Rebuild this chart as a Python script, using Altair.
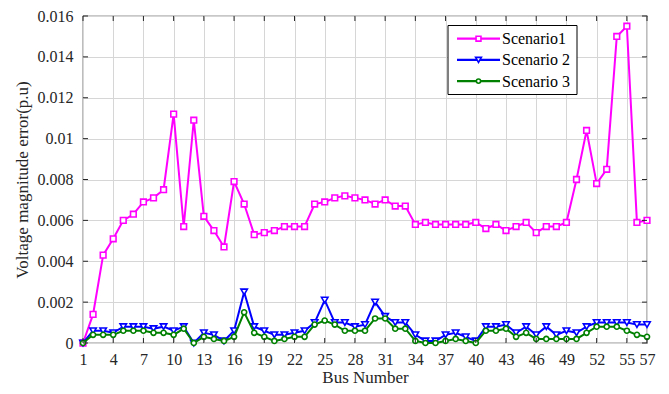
import altair as alt
import pandas as pd

bus = list(range(1, 58))
s1 = [0.0000, 0.0014, 0.0043, 0.0051, 0.0060, 0.0063, 0.0069, 0.0071, 0.0075, 0.0112,
      0.0057, 0.0109, 0.0062, 0.0055, 0.0047, 0.0079, 0.0068, 0.0053, 0.0054, 0.0055,
      0.0057, 0.0057, 0.0057, 0.0068, 0.0069, 0.0071, 0.0072, 0.0071, 0.0070, 0.0068,
      0.0070, 0.0067, 0.0067, 0.0058, 0.0059, 0.0058, 0.0058, 0.0058, 0.0058, 0.0059,
      0.0056, 0.0058, 0.0055, 0.0057, 0.0059, 0.0054, 0.0057, 0.0057, 0.0059, 0.0080,
      0.0104, 0.0078, 0.0085, 0.0150, 0.0155, 0.0059, 0.0060]
s2 = [0.0000, 0.0006, 0.0006, 0.0005, 0.0008, 0.0008, 0.0008, 0.0007, 0.0008, 0.0006,
      0.0008, 0.0000, 0.0005, 0.0004, 0.0001, 0.0006, 0.0025, 0.0008, 0.0006, 0.0004,
      0.0004, 0.0005, 0.0006, 0.0010, 0.0021, 0.0010, 0.0010, 0.0008, 0.0009, 0.0020,
      0.0013, 0.0010, 0.0010, 0.0004, 0.0001, 0.0001, 0.0004, 0.0005, 0.0003, 0.0001,
      0.0008, 0.0008, 0.0009, 0.0005, 0.0008, 0.0004, 0.0008, 0.0004, 0.0006, 0.0005,
      0.0008, 0.0010, 0.0010, 0.0010, 0.0010, 0.0009, 0.0009]
s3 = [0.0000, 0.0004, 0.0004, 0.0004, 0.0006, 0.0006, 0.0006, 0.0005, 0.0005, 0.0004,
      0.0007, 0.0000, 0.0003, 0.0002, 0.0001, 0.0003, 0.0015, 0.0005, 0.0003, 0.0001,
      0.0002, 0.0003, 0.0003, 0.0009, 0.0011, 0.0009, 0.0006, 0.0006, 0.0006, 0.0012,
      0.0012, 0.0007, 0.0007, 0.0001, 0.0000, 0.0000, 0.0001, 0.0002, 0.0001, 0.0000,
      0.0006, 0.0006, 0.0007, 0.0003, 0.0005, 0.0002, 0.0002, 0.0002, 0.0002, 0.0002,
      0.0005, 0.0008, 0.0008, 0.0008, 0.0006, 0.0004, 0.0003]

names = ["Scenario1", "Scenario 2", "Scenario 3"]
colors = ["#FF00FF", "#0000FF", "#008000"]
shapes = ["square", "triangle-down", "circle"]
sizes = [32, 42, 26]

x_ticks = [1, 4, 7, 10, 13, 16, 19, 22, 25, 28, 31, 34, 37, 40, 43, 46, 49, 52, 55, 57]
y_ticks = [0, 0.002, 0.004, 0.006, 0.008, 0.01, 0.012, 0.014, 0.016]

W, H = 564, 327
FONT = "Liberation Serif"
AX = "#262626"

xscale = alt.Scale(domain=[1, 57], nice=False, zero=False)
yscale = alt.Scale(domain=[0, 0.016], nice=False)

x_axis = alt.Axis(values=x_ticks, title="Bus Number", grid=True, ticks=False, domain=False,
                  labelOverlap=False, labelBound=False, labelFlush=False, labelPadding=8,
                  titlePadding=2)
y_axis = alt.Axis(values=y_ticks, title="Voltage magnitude error(p.u)", grid=True, ticks=False,
                  domain=False, format="~g", labelPadding=10, titlePadding=6,
                  labelOverlap=False, labelBound=False, labelFlush=False)

X = alt.X("bus:Q", scale=xscale, axis=x_axis)

layers = []
base_df = pd.DataFrame({"bus": bus, "s1": s1, "s2": s2, "s3": s3})

for i, key in enumerate(["s1", "s2", "s3"]):
    c = alt.Chart(base_df)
    Y = alt.Y(f"{key}:Q", scale=yscale, axis=y_axis)
    layers.append(c.mark_line(color=colors[i], strokeWidth=2).encode(x=X, y=Y))
    layers.append(c.mark_point(shape=shapes[i], filled=True, fill="white", stroke=colors[i],
                               strokeWidth=1.6, size=sizes[i], opacity=1).encode(x=X, y=Y))

# inward ticks
xt = pd.DataFrame({"bus": x_ticks})
yt = pd.DataFrame({"v": y_ticks})
for y0, y1 in [(0, 5), (H - 5, H)]:
    layers.append(alt.Chart(xt).mark_rule(color=AX, strokeWidth=1).encode(
        x=X, y=alt.value(y0), y2=alt.value(y1)))
for x0, x1 in [(0, 5), (W - 5, W)]:
    layers.append(alt.Chart(yt).mark_rule(color=AX, strokeWidth=1).encode(
        y=alt.Y("v:Q", scale=yscale, axis=y_axis), x=alt.value(x0), x2=alt.value(x1)))

# legend
one = pd.DataFrame({"a": [0]})
layers.append(alt.Chart(one).mark_rect(fill="white", stroke="#000000", strokeWidth=1).encode(
    x=alt.value(365), x2=alt.value(494), y=alt.value(9.5), y2=alt.value(78.5)))
for i in range(3):
    yy = 22.7 + i * 21.2
    layers.append(alt.Chart(one).mark_rule(color=colors[i], strokeWidth=2.2).encode(
        x=alt.value(374), x2=alt.value(417), y=alt.value(yy)))
    layers.append(alt.Chart(one).mark_point(shape=shapes[i], filled=True, fill="white",
                                            stroke=colors[i], strokeWidth=1.6, size=sizes[i] - 8,
                                            opacity=1).encode(
        x=alt.value(395.5), y=alt.value(yy)))
    layers.append(alt.Chart(one).mark_text(align="left", baseline="middle", font=FONT,
                                           fontSize=16, color="#000000").encode(
        x=alt.value(419), y=alt.value(yy + 0.5), text=alt.value(names[i])))

chart = alt.layer(*layers).properties(
    width=W, height=H,
    autosize=alt.AutoSizeParams(type="none"),
    padding={"left": 75, "top": 8, "right": 14, "bottom": 43},
    background="white",
).configure_view(stroke=AX, strokeWidth=1.2).configure_axis(
    labelFont=FONT, labelFontSize=16, labelColor=AX,
    titleFont=FONT, titleFontSize=17, titleColor=AX, titleFontWeight="normal",
    gridColor="#d6d6d6", gridWidth=1,
).configure_text(font=FONT)

chart.save("out.html", embed_options={"renderer": "svg", "actions": False})
